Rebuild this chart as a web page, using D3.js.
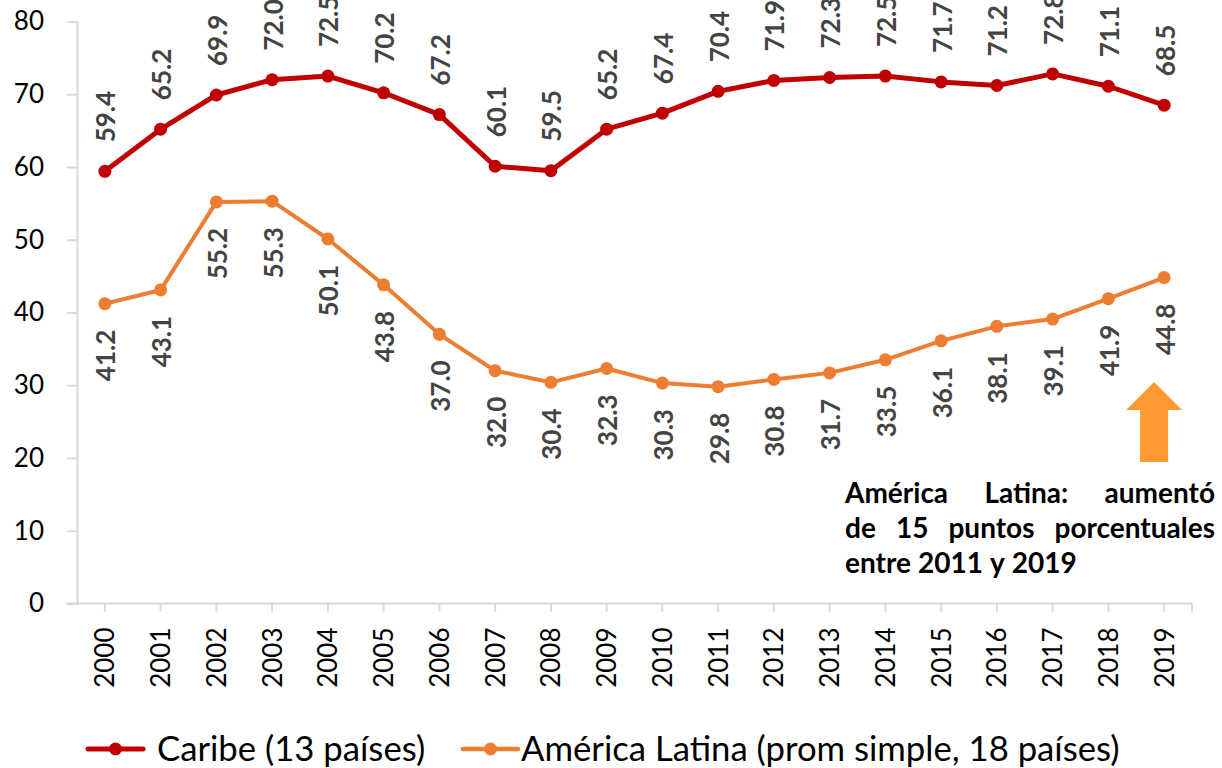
<!DOCTYPE html>
<html>
<head>
<meta charset="utf-8">
<script src="https://cdn.jsdelivr.net/npm/d3@7"></script>
<style>
  body { margin: 0; background: #fff; }
  svg { display: block; font-family: Lato, "Open Sans", sans-serif; }
</style>
</head>
<body>
<div id="chart"></div>
<script>
// data
const years = ["2000","2001","2002","2003","2004","2005","2006","2007","2008","2009",
               "2010","2011","2012","2013","2014","2015","2016","2017","2018","2019"];
const caribe = [59.4, 65.2, 69.9, 72.0, 72.5, 70.2, 67.2, 60.1, 59.5, 65.2,
                67.4, 70.4, 71.9, 72.3, 72.5, 71.7, 71.2, 72.8, 71.1, 68.5];
const latina = [41.2, 43.1, 55.2, 55.3, 50.1, 43.8, 37.0, 32.0, 30.4, 32.3,
                30.3, 29.8, 30.8, 31.7, 33.5, 36.1, 38.1, 39.1, 41.9, 44.8];
const yTicks = [0, 10, 20, 30, 40, 50, 60, 70, 80];
const seriesNames = ["Caribe (13 países)", "América Latina (prom simple, 18 países)"];
const noteLines = ["América Latina: aumentó", "de 15 puntos porcentuales", "entre 2011 y 2019"];

const W = 1222, H = 768;
const colCaribe = "#C00000", colLatina = "#ED7D31", colArrow = "#FF9933";
const labelColor = "#444444", axisColor = "#D9D9D9";

const svg = d3.select("#chart").append("svg")
    .attr("width", W).attr("height", H);

const x = d3.scaleBand().domain(years).range([77, 1192]);
const y = d3.scaleLinear().domain([0, 80]).range([603.5, 21.5]);
const cx = d => x(d) + x.bandwidth() / 2;

// y axis
const yAxis = svg.append("g").attr("transform", "translate(77,0)")
    .call(d3.axisLeft(y).tickValues(yTicks).tickSize(10).tickPadding(23));
yAxis.select(".domain").attr("stroke", axisColor).attr("stroke-width", 2);
yAxis.selectAll(".tick line").attr("stroke", axisColor).attr("stroke-width", 2);
yAxis.selectAll(".tick text")
    .attr("font-family", "Lato, sans-serif")
    .attr("font-size", 26).attr("fill", "#000");

// x axis (ticks on the category centres)
const xAxisG = svg.append("g").attr("transform", `translate(0,${y(0)})`);
xAxisG.append("line")
    .attr("x1", 66).attr("x2", x.range()[1])
    .attr("stroke", axisColor).attr("stroke-width", 2);
xAxisG.selectAll(".xtick")
    .data(years.map(cx).concat([x.range()[1]]))
    .enter().append("line")
    .attr("x1", d => d).attr("x2", d => d)
    .attr("y1", 0).attr("y2", 8)
    .attr("stroke", axisColor).attr("stroke-width", 2);
xAxisG.selectAll(".xlab")
    .data(years)
    .enter().append("text")
    .attr("transform", d => `translate(${cx(d)},24) rotate(-90)`)
    .attr("dy", "0.36em")
    .attr("text-anchor", "end")
    .attr("font-size", 26)
    .attr("fill", "#000")
    .text(d => d);

// lines
const line = d3.line().x((d, i) => cx(years[i])).y(d => y(d));

function drawSeries(vals, color, width, above) {
    svg.append("path")
        .datum(vals)
        .attr("d", line)
        .attr("fill", "none")
        .attr("stroke", color)
        .attr("stroke-width", width)
        .attr("stroke-linejoin", "round");
    svg.selectAll(null)
        .data(vals)
        .enter().append("circle")
        .attr("cx", (d, i) => cx(years[i]))
        .attr("cy", d => y(d))
        .attr("r", 6.5)
        .attr("fill", color);
    svg.selectAll(null)
        .data(vals)
        .enter().append("text")
        .attr("transform", (d, i) => `translate(${cx(years[i]) + 1},${above ? y(d) - 29 : y(d) + 26}) rotate(-90)`)
        .attr("dy", "0.36em")
        .attr("text-anchor", above ? "start" : "end")
        .attr("font-size", 26)
        .attr("font-weight", "bold")
        .attr("fill", labelColor)
        .text(d => d.toFixed(1));
}
drawSeries(caribe, colCaribe, 5, true);
drawSeries(latina, colLatina, 4, false);

// arrow
const ax = cx("2019") - 10;
svg.append("path")
    .attr("d", `M${ax},382 L${ax + 28},410 L${ax + 14},410 L${ax + 14},462 L${ax - 14},462 L${ax - 14},410 L${ax - 28},410 Z`)
    .attr("fill", colArrow);

// annotation text, justified
const noteLeft = 845, noteRight = 1215;
noteLines.forEach((ln, li) => {
    const yy = 503 + li * 35;
    const words = ln.split(" ");
    const g = svg.append("g");
    const ts = words.map(w => g.append("text")
        .attr("y", yy)
        .attr("font-size", 28)
        .attr("font-weight", "bold")
        .attr("fill", "#000")
        .text(w));
    const widths = ts.map(t => t.node().getComputedTextLength());
    const total = d3.sum(widths);
    const last = li === noteLines.length - 1;
    const gap = last ? 7 : (noteRight - noteLeft - total) / (words.length - 1);
    let xx = noteLeft;
    ts.forEach((t, i) => { t.attr("x", xx); xx += widths[i] + gap; });
});

// legend
const legend = [
    { name: seriesNames[0], color: colCaribe, w: 5, x: 88, tx: 157 },
    { name: seriesNames[1], color: colLatina, w: 4.5, x: 463, tx: 521 }
];
legend.forEach(l => {
    const g = svg.append("g");
    g.append("line")
        .attr("x1", l.x).attr("x2", l.x + 55)
        .attr("y1", 749).attr("y2", 749)
        .attr("stroke", l.color).attr("stroke-width", l.w)
        .attr("stroke-linecap", "round");
    g.append("circle").attr("cx", l.x + 27.5).attr("cy", 749).attr("r", 6.5).attr("fill", l.color);
    g.append("text")
        .attr("x", l.tx).attr("y", 749)
        .attr("dy", "0.35em")
        .attr("font-size", 34.7)
        .attr("fill", "#000")
        .text(l.name);
});
</script>
</body>
</html>
